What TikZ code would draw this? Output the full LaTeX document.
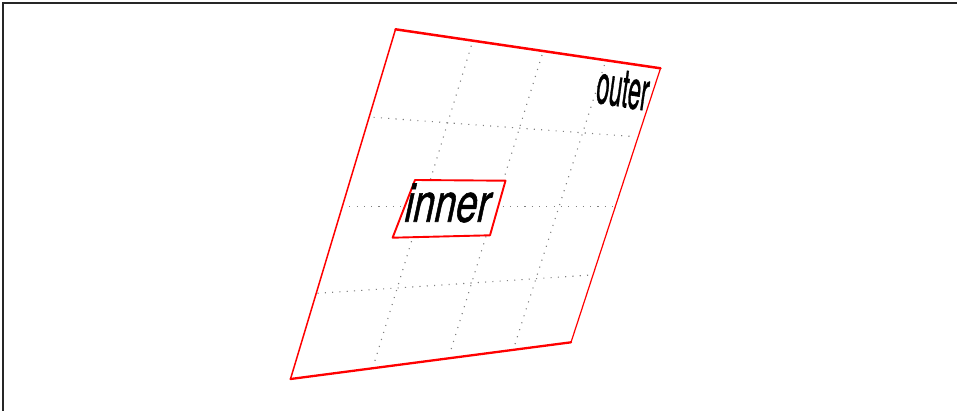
\documentclass[tikz,border=0pt]{standalone}
\usepackage{fontspec}
\setmainfont{TeX Gyre Heros}
\newfontfamily\wordfont[FakeBold=1.3]{TeX Gyre Heros}
\begin{document}
\begin{tikzpicture}[x=1pt, y=-1pt,
    edge/.style={draw=red, line cap=round, line join=round},
    gridline/.style={draw=black!50, line width=1.1pt, dash pattern=on 1.1pt off 6.2pt},
    word/.style={inner sep=0pt, font=\wordfont\fontsize{54}{54}\selectfont}]
  \useasboundingbox (0,0) rectangle (957,411);
  \draw[black!85, line width=1.6pt] (3,411) -- (3,3) -- (957,3);

  % corners of the outer sheet
  \coordinate (o1) at (395.5,29.3);
  \coordinate (o2) at (660.5,68.3);
  \coordinate (o3) at (571,342.3);
  \coordinate (o4) at (290.5,379);

  % dotted grid
  \draw[gridline] (373.6,117.3) -- (635,136.7);
  \draw[gridline] (341.9,206.7) -- (613.5,206.7);
  \draw[gridline] (317.5,293.3) -- (591,275);
  \draw[gridline] (471.3,45.7) -- (374.2,363.3);
  \draw[gridline] (542,55) -- (450,353);
  \draw[gridline] (604.4,65) -- (514.7,345);

  % outer sheet
  \draw[edge, line width=2.5pt] (o1) -- (o2);
  \draw[edge, line width=1.2pt] (o2) -- (o3);
  \draw[edge, line width=2.3pt] (o3) -- (o4);
  \draw[edge, line width=1.5pt] (o4) -- (o1);

  % inner box
  \coordinate (i1) at (415,180);
  \coordinate (i2) at (505.5,180.7);
  \coordinate (i3) at (490,235.3);
  \coordinate (i4) at (392.6,237.7);
  \fill[white] (i1) -- (i2) -- (i3) -- (i4) -- cycle;
  \draw[edge, line width=1.9pt] (i1) -- (i2) -- (i3) -- (i4) -- cycle;

  \node[word, xscale=0.71, xslant=0.3] (inner) at (449,203) {inner};
  \node[word, xscale=0.43, xslant=0.25, rotate=-4] (outer) at (623,89) {outer};
\end{tikzpicture}
\end{document}
